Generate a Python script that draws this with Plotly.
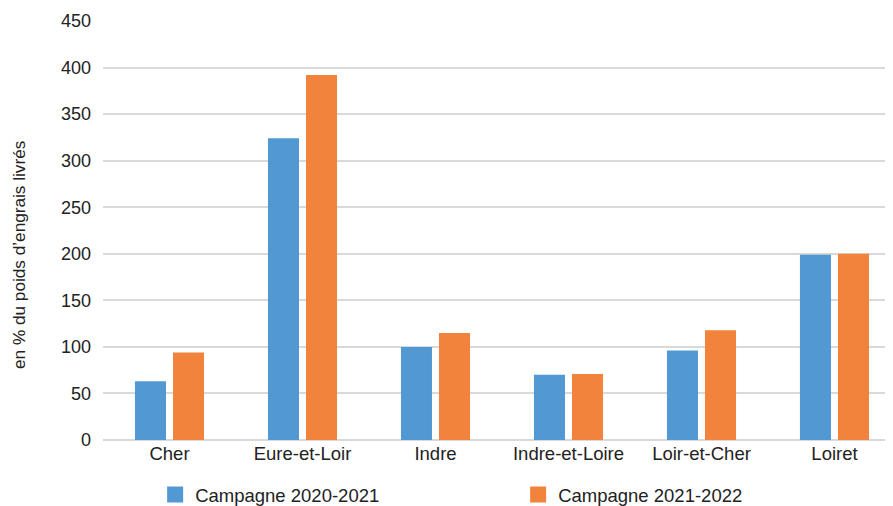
import plotly.graph_objects as go

categories = ["Cher", "Eure-et-Loir", "Indre", "Indre-et-Loire", "Loir-et-Cher", "Loiret"]
serie_2020 = [63, 324, 100, 70, 96, 199]
serie_2021 = [94, 392, 115, 71, 118, 200]
name_2020 = "Campagne 2020-2021"
name_2021 = "Campagne 2021-2022"
color_2020 = "#5299D3"
color_2021 = "#F2833D"
y_ticks = [0, 50, 100, 150, 200, 250, 300, 350, 400, 450]
y_title = "en % du poids d’engrais livrés"

fig = go.Figure()
fig.add_trace(go.Bar(x=categories, y=serie_2020, name=name_2020, showlegend=False,
                     marker=dict(color=color_2020, line=dict(width=0))))
fig.add_trace(go.Bar(x=categories, y=serie_2021, name=name_2021, showlegend=False,
                     marker=dict(color=color_2021, line=dict(width=0))))
# legend entries with larger square symbols
for nm, col in [(name_2020, color_2020), (name_2021, color_2021)]:
    fig.add_trace(go.Scatter(x=[None], y=[None], mode="markers", name=nm,
                             marker=dict(symbol="square", size=16, color=col)))

fig.add_annotation(text=y_title, textangle=-90, xref="paper", yref="paper",
                   x=0, y=0.4415, xshift=-84, xanchor="center", yanchor="middle",
                   showarrow=False, font=dict(size=17.2, color="#222222"))

# the page shows the figure offset by 8px (body margin); compensate
fig.update_layout(
    width=885, height=498,
    margin=dict(l=95, r=0, t=13, b=66, autoexpand=False),
    paper_bgcolor="white", plot_bgcolor="white",
    font=dict(family="Liberation Sans, Arial, sans-serif", size=18, color="#222222"),
    barmode="group", bargap=0.428, bargroupgap=0.184,
    showlegend=True,
    legend=dict(orientation="h", x=0.066, y=-0.131, xanchor="left", yanchor="middle",
                entrywidth=318, entrywidthmode="pixels",
                font=dict(size=18.5), tracegroupgap=0),
    xaxis=dict(range=[-0.5, 5.44], showgrid=False, showline=False, ticks="",
               tickfont=dict(size=18.5)),
    yaxis=dict(range=[0, 450], tickvals=y_ticks, showgrid=True, gridcolor="#D9D9D9",
               gridwidth=1.5, zeroline=True, zerolinecolor="#D9D9D9", zerolinewidth=1.5,
               ticks="", ticklabelstandoff=11, tickfont=dict(size=18)),
)

fig.write_html("out.html")
